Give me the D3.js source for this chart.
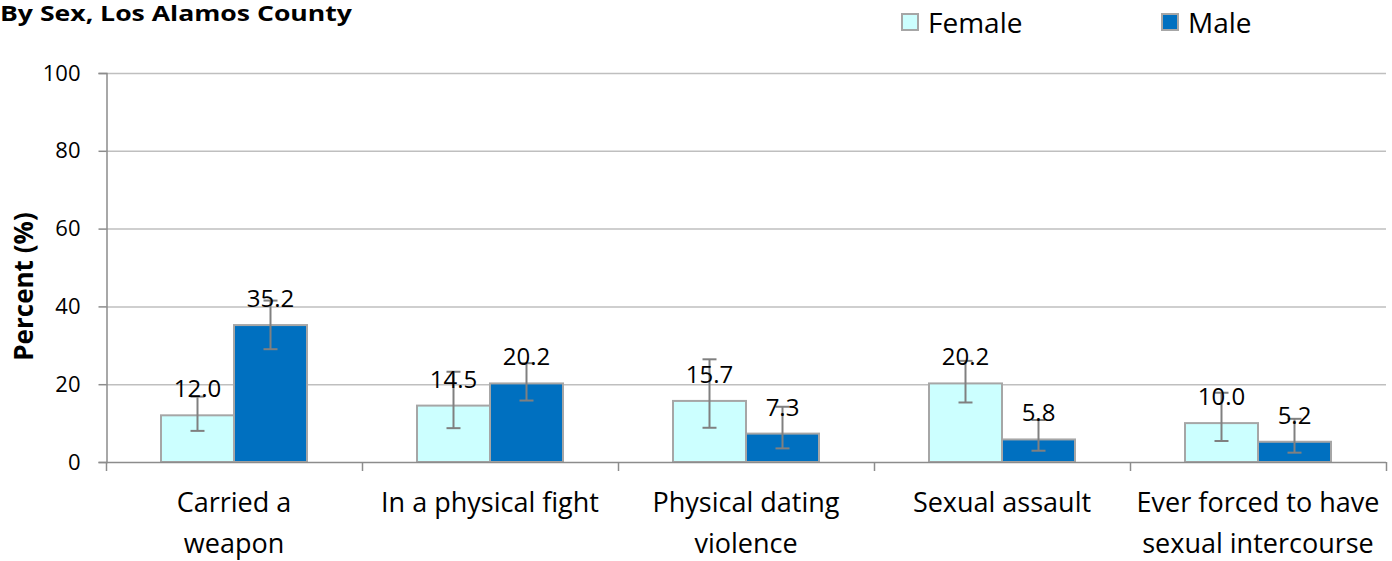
<!DOCTYPE html>
<html>
<head>
<meta charset="utf-8">
<script src="https://cdn.jsdelivr.net/npm/d3@7"></script>
<style>
  body { margin: 0; background: #fff; }
  svg { display: block; font-family: "Open Sans", sans-serif; }
</style>
</head>
<body>
<script>
// chart data
const categories = [
    ['Carried a', 'weapon'],
    ['In a physical fight'],
    ['Physical dating', 'violence'],
    ['Sexual assault'],
    ['Ever forced to have', 'sexual intercourse']
];
const series = ['Female', 'Male'];
const female = [12.0, 14.5, 15.7, 20.2, 10.0];
const male = [35.2, 20.2, 7.3, 5.8, 5.2];
const femaleLow = [8.0, 8.7, 8.8, 15.3, 5.4];
const femaleHigh = [16.8, 23.2, 26.4, 26.0, 17.8];
const maleLow = [29.0, 15.8, 3.5, 2.9, 2.4];
const maleHigh = [41.5, 25.4, 14.2, 10.8, 11.1];
const yTicks = [0, 20, 40, 60, 80, 100];

const colors = { Female: '#CCFFFF', Male: '#0070C0' };

const W = 1392, H = 561;
const plotL = 106, plotR = 1386, plotT = 73, plotB = 462;

const svg = d3.select('body').append('svg').attr('width', W).attr('height', H);

const x = d3.scaleBand().domain(d3.range(categories.length)).range([plotL, plotR]);
const bw = 73;
const y = d3.scaleLinear().domain([0, 100]).range([plotB, plotT]);

// title
svg.append('text').attr('x', 0).attr('y', 21)
    .attr('font-size', 22).attr('font-weight', 'bold').attr('fill', '#000')
    .attr('textLength', 352).attr('lengthAdjust', 'spacingAndGlyphs')
    .text('By Sex, Los Alamos County');

// gridlines
svg.append('g').selectAll('line').data(yTicks.filter(d => d > 0)).join('line')
    .attr('x1', plotL).attr('x2', plotR)
    .attr('y1', d => y(d) + 0.5).attr('y2', d => y(d) + 0.5)
    .attr('stroke', '#BFBFBF').attr('stroke-width', 1.5);

// y axis
const yAxis = svg.append('g').attr('transform', `translate(${plotL + 0.5},0)`)
    .call(d3.axisLeft(y).tickValues(yTicks).tickSize(8).tickPadding(18));
yAxis.select('.domain').attr('stroke', '#8C8C8C').attr('stroke-width', 1.5);
yAxis.selectAll('.tick line').attr('stroke', '#8C8C8C').attr('stroke-width', 1.5);
yAxis.selectAll('.tick text').attr('font-size', 22).attr('fill', '#000')
    .attr('font-family', '"Open Sans", sans-serif');

svg.append('text')
    .attr('transform', `translate(33,${(plotT + plotB) / 2 + 19}) rotate(-90)`)
    .attr('text-anchor', 'middle').attr('font-size', 26).attr('font-weight', 'bold')
    .text('Percent (%)');

// bars
const data = [];
categories.forEach((c, i) => {
    data.push({ i, s: 'Female', v: female[i], lo: femaleLow[i], hi: femaleHigh[i], off: -bw });
    data.push({ i, s: 'Male', v: male[i], lo: maleLow[i], hi: maleHigh[i], off: 0 });
});
const cx = i => x(i) + x.bandwidth() / 2;

svg.append('g').selectAll('rect').data(data).join('rect')
    .attr('x', d => cx(d.i) + d.off)
    .attr('y', d => y(d.v))
    .attr('width', bw)
    .attr('height', d => y(0) - y(d.v))
    .attr('fill', d => colors[d.s])
    .attr('stroke', '#A6A6A6').attr('stroke-width', 2);

// x axis
const xAxis = svg.append('g');
xAxis.append('line').attr('x1', plotL).attr('x2', plotR)
    .attr('y1', plotB + 0.5).attr('y2', plotB + 0.5)
    .attr('stroke', '#8C8C8C').attr('stroke-width', 1.5);
xAxis.selectAll('.xt').data(d3.range(categories.length + 1)).join('line')
    .attr('x1', i => plotL + i * x.step() + 0.5).attr('x2', i => plotL + i * x.step() + 0.5)
    .attr('y1', plotB).attr('y2', plotB + 9)
    .attr('stroke', '#8C8C8C').attr('stroke-width', 1.5);
xAxis.selectAll('.xl').data(categories).join('text')
    .attr('text-anchor', 'middle').attr('font-size', 27).attr('fill', '#000')
    .each(function (lines, i) {
        d3.select(this).selectAll('tspan').data(lines).join('tspan')
            .attr('x', cx(i)).attr('y', (d, k) => 512 + k * 41).text(d => d);
    });

// error bars
const eb = svg.append('g').attr('stroke', '#808080').attr('stroke-width', 2);
data.forEach(d => {
    const ex = cx(d.i) + d.off + bw / 2;
    eb.append('line').attr('x1', ex).attr('x2', ex).attr('y1', y(d.lo)).attr('y2', y(d.hi));
    eb.append('line').attr('x1', ex - 7).attr('x2', ex + 7).attr('y1', y(d.lo)).attr('y2', y(d.lo));
    eb.append('line').attr('x1', ex - 7).attr('x2', ex + 7).attr('y1', y(d.hi)).attr('y2', y(d.hi));
});

// value labels
svg.append('g').selectAll('text').data(data).join('text')
    .attr('x', d => cx(d.i) + d.off + bw / 2)
    .attr('y', d => y(d.v) - 18)
    .attr('text-anchor', 'middle').attr('font-size', 24).attr('fill', '#000')
    .text(d => d.v.toFixed(1));

// legend
const legX = [902, 1162];
const leg = svg.append('g').selectAll('g').data(series).join('g')
    .attr('transform', (d, k) => `translate(${legX[k]},14)`);
leg.append('rect').attr('width', 16).attr('height', 16)
    .attr('fill', d => colors[d]).attr('stroke', '#A6A6A6').attr('stroke-width', 2);
leg.append('text').attr('x', 26).attr('y', 19).attr('font-size', 28).attr('fill', '#000')
    .text(d => d);
</script>
</body>
</html>
